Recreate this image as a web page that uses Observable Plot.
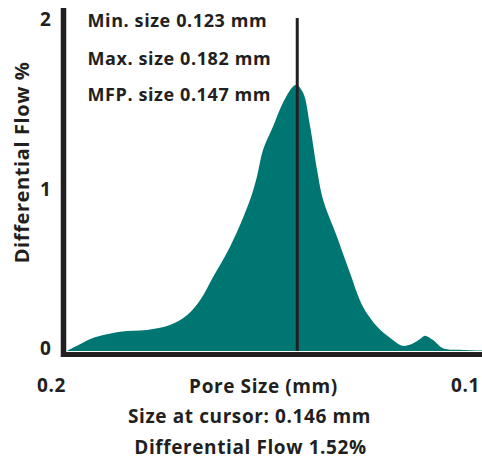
<!DOCTYPE html>
<html>
<head>
<meta charset="utf-8">
<script src="https://cdn.jsdelivr.net/npm/d3@7"></script>
<script src="https://cdn.jsdelivr.net/npm/@observablehq/plot@0.6"></script>
<style>
  html, body { margin: 0; padding: 0; background: #fff; }
  svg { font-family: "Open Sans", Lato, sans-serif; }
  svg text { letter-spacing: 0.6px; }
</style>
</head>
<body>
<div id="chart"></div>
<script>
const poreSize = [0.1991,0.1961,0.1931,0.1868,0.1806,0.1753,0.1713,0.1683,0.1653,0.1614,0.1568,0.1552,0.1538,0.1515,0.1492,0.1469,0.1460,0.1445,0.1429,0.1413,0.1399,0.1367,0.1337,0.1307,0.1274,0.1244,0.1221,0.1210,0.1191,0.1175,0.1164,0.1145,0.1122,0.1076,0.1032];
const diffFlow = [0,0.04,0.078,0.116,0.126,0.156,0.216,0.306,0.446,0.626,0.907,1.047,1.207,1.347,1.49,1.587,1.598,1.55,1.347,1.087,0.907,0.686,0.468,0.266,0.146,0.078,0.036,0.03,0.046,0.072,0.092,0.066,0.016,0.006,0.003];
const cursorSize = 0.146;
const statsLines = ["Min. size 0.123 mm", "Max. size 0.182 mm", "MFP. size 0.147 mm"];
const xTickLabels = ["0.2", "0.1"];
const yTicks = [0, 1, 2];
const xLabel = "Pore Size (mm)";
const yLabel = "Differential Flow %";
const cursorLines = ["Size at cursor: 0.146 mm", "Differential Flow 1.52%"];

const data = poreSize.map((x, i) => ({x, y: diffFlow[i]}));
const ink = "#231f20";
const teal = "#007672";
const bold = {fontWeight: 700, fill: ink};
const fmt = d3.format("d");

const chart = Plot.plot({
  width: 482,
  height: 460,
  marginLeft: 63,
  marginRight: 0,
  marginTop: 18,
  marginBottom: 109,
  x: {domain: [0.2, 0.1032], axis: null},
  y: {domain: [0, 2], axis: null},
  marks: [
    Plot.areaY(data, {x: "x", y: "y", fill: teal, curve: "catmull-rom", clip: true}),
    Plot.ruleX([cursorSize], {y1: 0, y2: 2, stroke: ink, strokeWidth: 3}),
    Plot.ruleY([0], {x1: 0.2, x2: 0.1032, stroke: ink, strokeWidth: 5, dy: 3}),
    Plot.ruleX([0.2], {y1: -0.036, y2: 2.06, stroke: ink, strokeWidth: 5.5}),
    Plot.axisY([yTicks[2]], {tickSize: 0, tickPadding: 12, tickFormat: fmt, fontSize: 19, ...bold, dy: 1, label: null}),
    Plot.axisY([yTicks[1]], {tickSize: 0, tickPadding: 12, tickFormat: fmt, fontSize: 19, ...bold, dy: 5, label: null}),
    Plot.axisY([yTicks[0]], {tickSize: 0, tickPadding: 12, tickFormat: fmt, fontSize: 19, ...bold, dy: -3, label: null}),
    Plot.text([xTickLabels[0]], {frameAnchor: "bottom-left", dx: -12, dy: 34, textAnchor: "middle", lineAnchor: "middle", fontSize: 19, ...bold}),
    Plot.text([xTickLabels[1]], {frameAnchor: "bottom-right", dx: -17, dy: 34, textAnchor: "middle", lineAnchor: "middle", fontSize: 19, ...bold}),
    Plot.text([xLabel], {frameAnchor: "bottom", dx: -9.5, dy: 35, textAnchor: "middle", lineAnchor: "middle", fontSize: 19, ...bold}),
    Plot.text([cursorLines[0]], {frameAnchor: "bottom", dx: -23.5, dy: 65, textAnchor: "middle", lineAnchor: "middle", fontSize: 19, ...bold}),
    Plot.text([cursorLines[1]], {frameAnchor: "bottom", dx: -22.5, dy: 96, textAnchor: "middle", lineAnchor: "middle", fontSize: 19, ...bold}),
    Plot.text([yLabel], {frameAnchor: "left", rotate: -90, dx: -41, dy: -22.5, textAnchor: "middle", lineAnchor: "middle", fontSize: 20, ...bold}),
    Plot.text([statsLines[0]], {frameAnchor: "top-left", dx: 24, dy: 8, textAnchor: "start", lineAnchor: "bottom", fontSize: 18, ...bold}),
    Plot.text([statsLines[1]], {frameAnchor: "top-left", dx: 24, dy: 46, textAnchor: "start", lineAnchor: "bottom", fontSize: 18, ...bold}),
    Plot.text([statsLines[2]], {frameAnchor: "top-left", dx: 24, dy: 82, textAnchor: "start", lineAnchor: "bottom", fontSize: 18, ...bold})
  ]
});
document.getElementById("chart").append(chart);
</script>
</body>
</html>
